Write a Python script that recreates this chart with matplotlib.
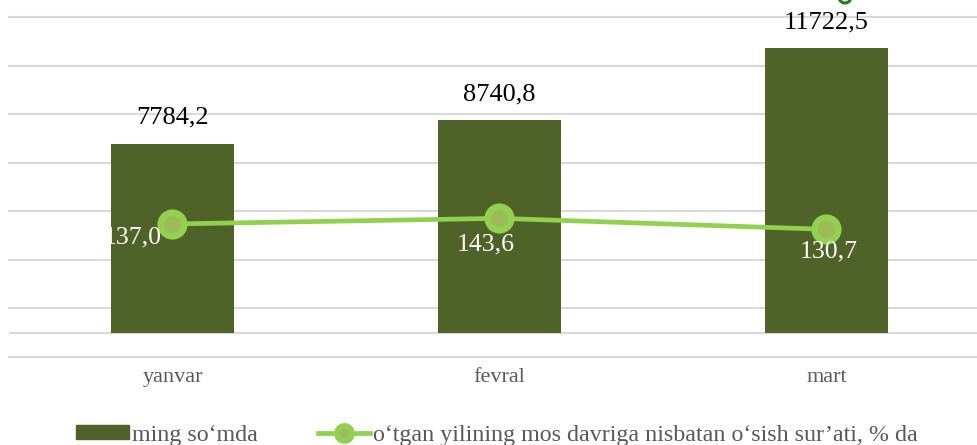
import matplotlib
matplotlib.use("Agg")
import matplotlib.pyplot as plt
from matplotlib.patches import Arc, Patch
from matplotlib.lines import Line2D

categories = ["yanvar", "fevral", "mart"]
bar_values = [7784.2, 8740.8, 11722.5]
line_values = [137.0, 143.6, 130.7]
bar_labels = ["7784,2", "8740,8", "11722,5"]
line_labels = ["137,0", "143,6", "130,7"]
bar_series_name = "ming so\u2018mda"
line_series_name = "o\u2018tgan yilining mos davriga nisbatan o\u2018sish sur\u2019ati, % da"

BAR_COLOR = "#4F6228"
LINE_COLOR = "#92D050"
MARKER_FACE = "#9BBB59"
GRID = "#D9D9D9"
SERIF = ["Liberation Serif", "DejaVu Serif"]

W, H = 978, 445
fig = plt.figure(figsize=(W / 100, H / 100), dpi=100)
ax = fig.add_axes([9 / W, (H - 357) / H, 981 / W, 340 / H])
ax.set_xlim(-0.5, 2.5)
ax.set_ylim(-1000, 13000)

for v in range(-1000, 13001, 2000):
    ax.axhline(v, color=GRID, lw=1.5, zorder=0, clip_on=False)
ax.axhline(0, color=GRID, lw=1.5, zorder=0)

x = list(range(len(categories)))
bars = ax.bar(x, bar_values, width=0.376, color=BAR_COLOR, zorder=2)
for xi, v, lab in zip(x, bar_values, bar_labels):
    ax.annotate(lab, (xi, v), xytext=(0, 26), textcoords="offset pixels",
                ha="center", va="center", fontsize=19, family=SERIF, color="black")

for s in ax.spines.values():
    s.set_visible(False)
ax.set_yticks([])
ax.set_xticks(x)
ax.set_xticklabels(categories, family=SERIF, fontsize=16, color="#595959")
ax.tick_params(axis="x", length=0, pad=8)

ax2 = ax.twinx()
ax2.set_ylim(-19, 379.7)
ax2.set_yticks([])
for s in ax2.spines.values():
    s.set_visible(False)
ax2.plot(x, line_values, color=LINE_COLOR, lw=3.4, marker="o", markersize=17,
         markerfacecolor=MARKER_FACE, markeredgecolor=LINE_COLOR, markeredgewidth=4.7,
         zorder=3, solid_capstyle="round")
offsets = [(-40, -13), (-14, -26), (2, -22)]
for xi, v, lab, off in zip(x, line_values, line_labels, offsets):
    ax2.annotate(lab, (xi, v), xytext=(off[0], off[1]), textcoords="offset pixels",
                 ha="center", va="center", fontsize=18.5, family=SERIF, color="white")

# small cut-off glyph at top
fig.add_artist(Arc((845 / W, 1 + 3 / H), 12 / W, 12 / H, theta1=215, theta2=325,
                   transform=fig.transFigure, color="#1E7B1E", lw=2.2))

handles = [Patch(facecolor=BAR_COLOR, edgecolor=BAR_COLOR),
           Line2D([0], [0], color=LINE_COLOR, lw=3.4, marker="o", markersize=11,
                  markerfacecolor=MARKER_FACE, markeredgecolor=LINE_COLOR, markeredgewidth=4)]
leg = fig.legend(handles, [bar_series_name, line_series_name], loc="center",
                 bbox_to_anchor=(497 / W, 1 - 435 / H), ncol=2, frameon=False,
                 prop={"family": SERIF, "size": 17.3}, handlelength=2.2, handleheight=0.55,
                 handletextpad=0.12, columnspacing=2.5, borderaxespad=0, borderpad=0)
for t in leg.get_texts():
    t.set_color("#595959")

fig.savefig("out.png", dpi=100)
